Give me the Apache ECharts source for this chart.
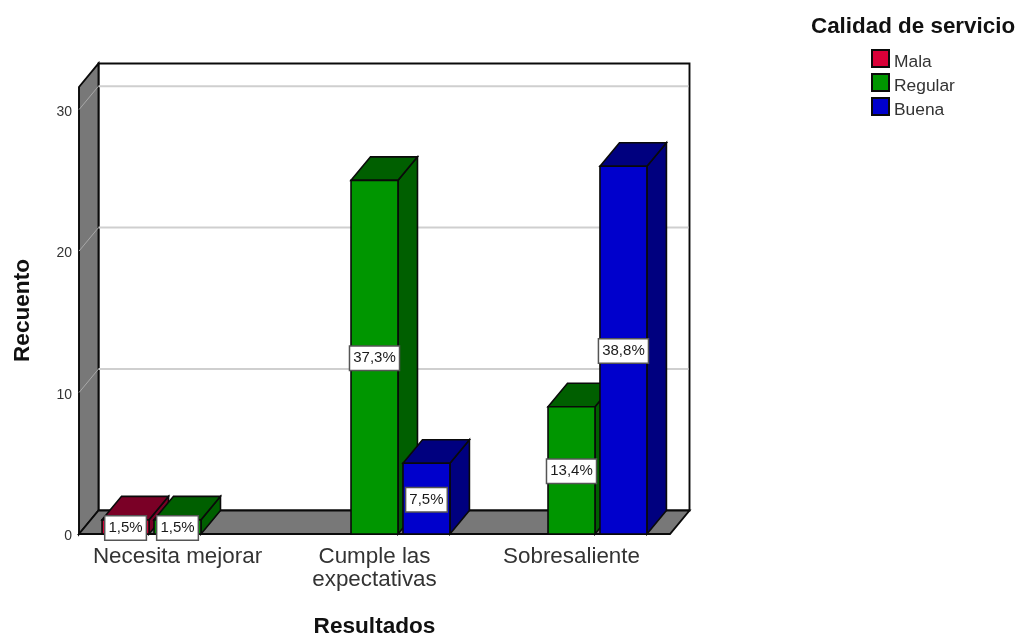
<!DOCTYPE html>
<html>
<head>
<meta charset="utf-8">
<title>Calidad de servicio por resultados</title>
<style>html,body{margin:0;padding:0;background:#fff}#chart{width:1017px;height:633px}</style>
<script src="https://cdn.jsdelivr.net/npm/echarts@6/dist/echarts.min.js"></script>
</head>
<body>
<div id="chart"></div>
<script>
const categories = ['Necesita mejorar', 'Cumple las\nexpectativas', 'Sobresaliente'];
const mala = [1, null, null];
const regular = [1, 25, 9];
const buena = [null, 5, 26];
const malaPct = ['1,5%', null, null];
const regularPct = ['1,5%', '37,3%', '13,4%'];
const buenaPct = [null, '7,5%', '38,8%'];
const gridValues = [0, 10, 20, 30];
const yTop = 31.6;

// Oblique projection of the 3D box, in pixels
const DX = 19.5, DY = -23.5;
const BAR_WIDTH = 47 / 197.2, BAR_STEP = 52 / 197.2;
const EDGE = '#0a0a0a';
const FONT = '"Liberation Sans", Arial, sans-serif';

const poly = (points, fill, lw) => ({
  type: 'polygon',
  shape: { points },
  style: { fill, stroke: EDGE, lineWidth: lw === undefined ? 1.6 : lw }
});

// Back wall, left wall, floor and the gridlines that wrap over them
function renderBox(params, api) {
  const band = api.size([1, 0])[0];
  const first = api.coord([0, 0])[0];
  const xl = first - band / 2, xr = first + band * (categories.length - 0.5);
  const y0 = api.coord([0, 0])[1], yT = api.coord([0, yTop])[1];
  const bl = [xl, y0], tl = [xl, yT], br = [xr, y0];
  const back = p => [p[0] + DX, p[1] + DY];
  const children = [
    poly([back(tl), [back(br)[0], back(tl)[1]], back(br), back(bl)], '#ffffff', 1.9),
    poly([tl, back(tl), back(bl), bl], '#787878', 1.9),
    poly([bl, back(bl), back(br), br], '#787878', 1.9)
  ];
  gridValues.slice(1).forEach(v => {
    const f = [xl, api.coord([0, v])[1]];
    const b = back(f);
    const r = [back(br)[0], b[1]];
    children.push({ type: 'line', shape: { x1: b[0], y1: b[1], x2: r[0] - 1, y2: r[1] }, style: { stroke: '#cfcfcf', lineWidth: 2 } });
    children.push({ type: 'line', shape: { x1: f[0], y1: f[1], x2: b[0], y2: b[1] }, style: { stroke: '#a8a8a8', lineWidth: 1 } });
  });
  children.push({ type: 'line', shape: { x1: bl[0], y1: bl[1], x2: br[0], y2: br[1] }, style: { stroke: EDGE, lineWidth: 2 } });
  return { type: 'group', children };
}

// One extruded bar with its front, top and side faces and a boxed percentage
function barRenderer(slot, front, dark, pct) {
  return function (params, api) {
    const i = api.value(0), v = api.value(1);
    const band = api.size([1, 0])[0];
    const w = band * BAR_WIDTH;
    const base = api.coord([i, 0]);
    const top = api.coord([i, v]);
    const mid = api.coord([i, v / 2]);
    const cx = base[0] + slot * band * BAR_STEP;
    const l = cx - w / 2, r = cx + w / 2;
    return {
      type: 'group',
      children: [
        poly([[r, top[1]], [r + DX, top[1] + DY], [r + DX, base[1] + DY], [r, base[1]]], dark),
        poly([[l, top[1]], [l + DX, top[1] + DY], [r + DX, top[1] + DY], [r, top[1]]], dark),
        poly([[l, top[1]], [r, top[1]], [r, base[1]], [l, base[1]]], front),
        {
          type: 'text', z2: 10, x: cx, y: mid[1] + 1,
          style: {
            text: pct[params.dataIndex], x: 0, y: 0, align: 'center', verticalAlign: 'middle',
            fill: '#1a1a1a', font: '15px ' + FONT,
            backgroundColor: '#ffffff', borderColor: '#555555', borderWidth: 1.5,
            padding: [4, 3, 4, 3]
          }
        }
      ]
    };
  };
}

const barSeries = (name, values, pct, slot, front, dark) => ({
  name, type: 'custom',
  coordinateSystem: 'cartesian2d',
  itemStyle: { color: front, borderColor: EDGE, borderWidth: 1 },
  encode: { x: 0, y: 1 },
  data: values.map((v, i) => [i, v]),
  renderItem: (params, api) => {
    if (values[params.dataIndex] === null) return null;
    return barRenderer(slot, front, dark, pct)(params, api);
  }
});

const chart = echarts.init(document.getElementById('chart'), null, { renderer: 'canvas' });
chart.setOption({
  animation: false,
  backgroundColor: '#ffffff',
  textStyle: { fontFamily: FONT },
  title: {
    text: 'Calidad de servicio', left: 811, top: 16, padding: 0,
    textStyle: { fontFamily: FONT, fontSize: 22.4, fontWeight: 'bold', color: '#111' }
  },
  legend: {
    orient: 'vertical', left: 871, top: 46.5, padding: 0, icon: 'rect',
    itemWidth: 17, itemHeight: 17, itemGap: 0,
    selectedMode: false,
    data: ['Mala', 'Regular', 'Buena'],
    formatter: '{t|{name}}',
    textStyle: {
      rich: { t: { fontFamily: FONT, fontSize: 17.4, lineHeight: 17, color: '#333', padding: [7, 0, 0, 0] } }
    }
  },
  grid: { left: 79, right: 347, top: 87, bottom: 99, outerBoundsMode: 'none' },
  xAxis: {
    type: 'category', data: categories,
    name: 'Resultados', nameLocation: 'middle', nameGap: 81,
    nameTextStyle: { fontFamily: FONT, fontSize: 22.6, fontWeight: 'bold', color: '#111' },
    axisLine: { show: false }, axisTick: { show: false },
    axisLabel: { fontFamily: FONT, fontSize: 22.4, color: '#333', margin: 11.5, lineHeight: 23, interval: 0 }
  },
  yAxis: {
    type: 'value', min: 0, max: yTop, interval: 10,
    name: 'Recuento', nameLocation: 'middle', nameGap: 45, nameRotate: 90,
    nameTextStyle: { fontFamily: FONT, fontSize: 22.6, fontWeight: 'bold', color: '#111' },
    axisLine: { show: false }, axisTick: { show: false }, splitLine: { show: false },
    axisLabel: { customValues: gridValues, fontFamily: FONT, fontSize: 14, color: '#333', margin: 7, verticalAlign: 'top', lineHeight: 5 }
  },
  series: [
    {
      name: 'caja', type: 'custom', coordinateSystem: 'cartesian2d', silent: true,
      encode: { x: 0, y: 1 }, data: [[0, 0]], renderItem: renderBox, clip: false
    },
    barSeries('Mala', mala, malaPct, -1, '#d90038', '#7a0026'),
    barSeries('Regular', regular, regularPct, 0, '#009600', '#005f00'),
    barSeries('Buena', buena, buenaPct, 1, '#0000cc', '#00007f')
  ]
});
</script>
</body>
</html>
